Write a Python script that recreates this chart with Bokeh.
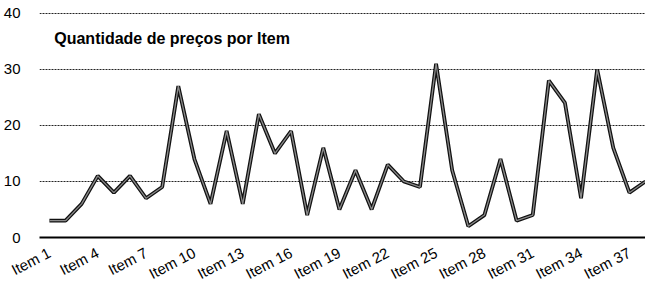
from bokeh.plotting import figure
from bokeh.models import Range1d, FixedTicker, Label, ColumnDataSource
from bokeh.embed import file_html
from bokeh.resources import INLINE

items = [f"Item {i}" for i in range(1, 39)]
valores = [3, 3, 6, 11, 8, 11, 7, 9, 27, 14,
           6, 19, 6, 22, 15, 19, 4, 16, 5, 12,
           5, 13, 10, 9, 31, 12, 2, 4, 14, 3,
           4, 28, 24, 7, 30, 16, 8, 10]
tick_items = list(range(1, 39, 3))
y_ticks = [0, 10, 20, 30, 40]
titulo = "Quantidade de preços por Item"

xs = list(range(1, len(valores) + 1))
src = ColumnDataSource(dict(x=xs, y=valores))

p = figure(width=645, height=292, output_backend="svg", toolbar_location=None,
           x_range=Range1d(0.384, 38.0), y_range=Range1d(0, 40.5),
           min_border_left=34, min_border_right=0, min_border_top=10, min_border_bottom=53)
p.outline_line_color = None
p.background_fill_color = "white"

p.line("x", "y", source=src, line_color="#111111", line_width=3.8)
p.line("x", "y", source=src, line_color="#8a8a8a", line_width=1.3)

p.xaxis.ticker = FixedTicker(ticks=tick_items)
p.xaxis.major_label_overrides = {i: items[i - 1] for i in tick_items}
p.xaxis.major_label_orientation = 0.48
p.xaxis.major_label_text_font = "Liberation Sans"
p.xaxis.major_label_text_font_size = "15px"
p.xaxis.major_label_text_color = "black"
p.xaxis.major_label_standoff = 8
p.xaxis.axis_line_color = "black"
p.xaxis.axis_line_width = 2
p.xaxis.major_tick_line_color = None
p.xaxis.minor_tick_line_color = None

p.yaxis.ticker = FixedTicker(ticks=y_ticks)
p.yaxis.axis_line_color = None
p.yaxis.major_tick_line_color = None
p.yaxis.minor_tick_line_color = None
p.yaxis.major_label_text_font = "Liberation Sans"
p.yaxis.major_label_text_font_size = "15px"
p.yaxis.major_label_text_color = "black"
p.yaxis.major_label_standoff = 13

p.xgrid.grid_line_color = None
p.ygrid.ticker = FixedTicker(ticks=[10, 20, 30, 40])
p.ygrid.grid_line_color = "#222222"
p.ygrid.grid_line_dash = "2 1"
p.ygrid.grid_line_width = 1

p.add_layout(Label(x=1.3, y=35.5, text=titulo, text_font="Liberation Sans",
                   text_font_size="16px", text_font_style="bold",
                   text_color="black", text_baseline="alphabetic"))

open("out.html", "w").write(file_html(p, INLINE))
